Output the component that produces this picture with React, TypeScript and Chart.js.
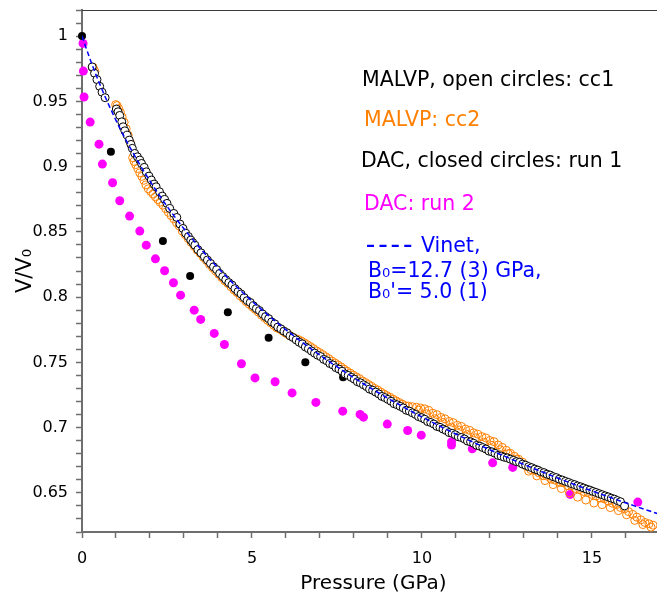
import React, { useEffect, useRef } from 'react';
import { Chart, registerables } from 'chart.js';

Chart.register(...registerables);

const FONT = '"DejaVu Sans", "Liberation Sans", sans-serif';

// Vinet fit curve (pressure GPa, V/V0)
const vinetFit: [number, number][] = [
  [0, 1.0], [0.27, 0.98], [0.574, 0.96], [0.916, 0.94], [1.301, 0.92], [1.735, 0.9],
  [2.223, 0.88], [2.772, 0.86], [3.391, 0.84], [4.087, 0.82], [4.872, 0.8], [5.758, 0.78],
  [6.758, 0.76], [7.887, 0.74], [9.166, 0.72], [10.614, 0.7], [12.258, 0.68], [14.126, 0.66],
  [16.251, 0.64], [16.83, 0.635], [17.15, 0.6323],
];

// MALVP cc1 (open black circles)
const malvpCc1: [number, number][] = [
  [0.30, 0.9764], [0.37, 0.9715], [0.44, 0.9667], [0.52, 0.9615], [0.59, 0.9570], [0.68, 0.9528],
  [1.01, 0.9441], [1.06, 0.9420], [1.11, 0.9392], [1.17, 0.9343], [1.21, 0.9305], [1.26, 0.9274],
  [1.33, 0.9241], [1.39, 0.9203], [1.44, 0.9170], [1.48, 0.9140], [1.55, 0.9101], [1.63, 0.9075],
  [1.70, 0.9050], [1.75, 0.9024], [1.83, 0.8994], [1.89, 0.8960], [1.97, 0.8927], [2.04, 0.8897],
  [2.12, 0.8866], [2.18, 0.8845], [2.28, 0.8807], [2.36, 0.8774], [2.43, 0.8749], [2.50, 0.8718],
  [2.58, 0.8680], [2.70, 0.8641], [2.79, 0.8610],
  [2.88, 0.8560], [2.97, 0.8526], [3.05, 0.8490], [3.13, 0.8464], [3.20, 0.8437], [3.26, 0.8417],
  [3.32, 0.8398], [3.41, 0.8364], [3.50, 0.8339], [3.60, 0.8310], [3.69, 0.8284], [3.78, 0.8258],
  [3.87, 0.8232], [3.96, 0.8211], [4.05, 0.8181], [4.14, 0.8157], [4.23, 0.8134], [4.32, 0.8111],
  [4.41, 0.8093], [4.50, 0.8065], [4.59, 0.8042], [4.68, 0.8024], [4.77, 0.7996], [4.86, 0.7973],
  [4.95, 0.7959], [5.04, 0.7934], [5.13, 0.7912], [5.22, 0.7897], [5.31, 0.7871], [5.40, 0.7851],
  [5.49, 0.7835], [5.58, 0.7810], [5.67, 0.7795], [5.76, 0.7770], [5.85, 0.7757], [5.94, 0.7739],
  [6.03, 0.7726], [6.12, 0.7703], [6.21, 0.7690], [6.30, 0.7672], [6.39, 0.7654], [6.48, 0.7641],
  [6.57, 0.7618], [6.66, 0.7605], [6.75, 0.7587], [6.84, 0.7571], [6.93, 0.7555], [7.02, 0.7544],
  [7.11, 0.7523], [7.20, 0.7512], [7.29, 0.7491], [7.38, 0.7480], [7.47, 0.7459], [7.56, 0.7448],
  [7.65, 0.7432], [7.74, 0.7411], [7.83, 0.7400], [7.92, 0.7385], [8.01, 0.7371], [8.10, 0.7352],
  [8.19, 0.7343], [8.28, 0.7328], [8.37, 0.7314], [8.46, 0.7295], [8.55, 0.7286], [8.64, 0.7272],
  [8.73, 0.7258], [8.82, 0.7239], [8.91, 0.7230], [9.00, 0.7216], [9.09, 0.7202], [9.18, 0.7183],
  [9.27, 0.7175], [9.36, 0.7163], [9.45, 0.7151], [9.54, 0.7133], [9.63, 0.7126], [9.72, 0.7113],
  [9.81, 0.7101], [9.90, 0.7084], [9.99, 0.7076], [10.08, 0.7064], [10.17, 0.7046], [10.26, 0.7039],
  [10.35, 0.7027], [10.44, 0.7009], [10.53, 0.7002], [10.62, 0.6989], [10.71, 0.6978], [10.80, 0.6962],
  [10.89, 0.6956], [10.98, 0.6945], [11.07, 0.6930], [11.16, 0.6924], [11.25, 0.6913], [11.34, 0.6897],
  [11.43, 0.6891], [11.52, 0.6880], [11.61, 0.6864], [11.70, 0.6858], [11.79, 0.6847], [11.88, 0.6836],
  [11.97, 0.6820], [12.06, 0.6814], [12.15, 0.6803], [12.24, 0.6787], [12.33, 0.6782], [12.42, 0.6773],
  [12.51, 0.6768], [12.60, 0.6758], [12.69, 0.6749], [12.78, 0.6739], [12.87, 0.6734], [12.96, 0.6720],
  [13.05, 0.6712], [13.14, 0.6701], [13.23, 0.6693], [13.32, 0.6682], [13.41, 0.6674], [13.50, 0.6662],
  [13.59, 0.6655], [13.68, 0.6643], [13.77, 0.6636], [13.86, 0.6624], [13.95, 0.6617], [14.04, 0.6605],
  [14.13, 0.6598], [14.22, 0.6588], [14.31, 0.6580], [14.40, 0.6570], [14.49, 0.6563], [14.58, 0.6553],
  [14.67, 0.6546], [14.76, 0.6537], [14.85, 0.6528], [14.94, 0.6521], [15.03, 0.6511], [15.12, 0.6503],
  [15.21, 0.6494], [15.30, 0.6486], [15.39, 0.6477], [15.48, 0.6469], [15.57, 0.6459], [15.66, 0.6452],
  [15.75, 0.6441], [15.84, 0.6432], [15.96, 0.6400],
];

// MALVP cc2 (open orange circles)
const malvpCc2: [number, number][] = [
  [0.33, 0.9760], [0.38, 0.9730],
  [0.99, 0.9475], [1.03, 0.9468], [1.08, 0.9445], [1.13, 0.9415], [1.18, 0.9380], [1.24, 0.9340],
  [1.30, 0.9290], [1.36, 0.9240], [1.42, 0.9185],
  [1.49, 0.9068], [1.53, 0.9040], [1.58, 0.9015], [1.64, 0.8985], [1.70, 0.8952], [1.76, 0.8925],
  [1.82, 0.8895], [1.88, 0.8860], [1.95, 0.8830], [2.02, 0.8810], [2.09, 0.8790], [2.16, 0.8768],
  [2.23, 0.8748], [2.30, 0.8728], [2.38, 0.8705], [2.46, 0.8678], [2.54, 0.8650], [2.62, 0.8625],
  [2.70, 0.8600], [2.78, 0.8570], [2.86, 0.8545], [2.95, 0.8505], [3.03, 0.8480], [3.12, 0.8450],
  [3.21, 0.8420], [3.30, 0.8390], [3.39, 0.8360], [3.48, 0.8335], [3.57, 0.8305], [3.66, 0.8280],
  [3.75, 0.8250], [3.84, 0.8225], [3.93, 0.8200], [4.02, 0.8175], [4.11, 0.8150], [4.20, 0.8125],
  [4.29, 0.8105], [4.38, 0.8080], [4.47, 0.8055], [4.56, 0.8035], [4.65, 0.8010], [4.74, 0.7990],
  [4.83, 0.7965], [4.92, 0.7945], [5.01, 0.7925], [5.10, 0.7905], [5.19, 0.7885], [5.28, 0.7862],
  [5.37, 0.7842], [5.46, 0.7822], [5.55, 0.7803], [5.64, 0.7784], [5.73, 0.7764], [5.82, 0.7753],
  [5.91, 0.7738], [6.00, 0.7722], [6.09, 0.7709], [6.18, 0.7696], [6.27, 0.7683], [6.36, 0.7675],
  [6.45, 0.7664], [6.54, 0.7650], [6.63, 0.7635], [6.72, 0.7620], [6.81, 0.7605], [6.90, 0.7588],
  [6.99, 0.7575], [7.08, 0.7560], [7.17, 0.7543], [7.26, 0.7528], [7.35, 0.7510], [7.44, 0.7495],
  [7.53, 0.7480], [7.62, 0.7465], [7.71, 0.7448], [7.80, 0.7432], [7.89, 0.7418], [7.98, 0.7402],
  [8.07, 0.7388], [8.16, 0.7375], [8.25, 0.7358], [8.34, 0.7345], [8.43, 0.7330], [8.52, 0.7316],
  [8.61, 0.7300], [8.70, 0.7288], [8.79, 0.7272], [8.88, 0.7258], [8.97, 0.7245], [9.06, 0.7232],
  [9.15, 0.7218], [9.24, 0.7205], [9.33, 0.7192], [9.42, 0.7180], [9.51, 0.7168], [9.60, 0.7165],
  [9.72, 0.7160], [9.84, 0.7156], [9.96, 0.7150], [10.08, 0.7144], [10.20, 0.7132], [10.32, 0.7110],
  [10.44, 0.7099], [10.56, 0.7078], [10.68, 0.7067], [10.80, 0.7047], [10.92, 0.7038], [11.04, 0.7018],
  [11.16, 0.7009], [11.28, 0.6989], [11.40, 0.6979], [11.52, 0.6960], [11.64, 0.6950], [11.76, 0.6931],
  [11.88, 0.6921], [12.00, 0.6901], [12.12, 0.6892], [12.24, 0.6867], [12.36, 0.6849], [12.48, 0.6826],
  [12.60, 0.6803], [12.72, 0.6780], [12.84, 0.6758], [12.96, 0.6735],
  [9.90, 0.7134], [10.14, 0.7106], [10.38, 0.7068], [10.62, 0.7039], [10.86, 0.7004], [11.10, 0.6981],
  [11.34, 0.6947], [11.58, 0.6922], [11.82, 0.6888], [12.06, 0.6864], [12.30, 0.6831], [12.54, 0.6800],
  [12.78, 0.6759],
  [13.08, 0.6702], [13.20, 0.6679], [13.32, 0.6671], [13.44, 0.6654], [13.56, 0.6631], [13.68, 0.6628],
  [13.80, 0.6605], [13.92, 0.6597], [14.04, 0.6579], [14.16, 0.6577], [14.28, 0.6556], [14.40, 0.6554],
  [14.52, 0.6533], [14.64, 0.6526], [14.76, 0.6510], [14.88, 0.6504], [15.00, 0.6488], [15.12, 0.6476],
  [15.24, 0.6460], [15.36, 0.6454], [15.48, 0.6437], [15.60, 0.6421], [15.72, 0.6410], [15.84, 0.6388],
  [15.96, 0.6377], [16.08, 0.6356], [16.20, 0.6335], [16.32, 0.6314], [16.44, 0.6293], [16.56, 0.6273],
  [16.68, 0.6263], [16.80, 0.6252],
  [13.14, 0.6666], [13.38, 0.6630], [13.62, 0.6594], [13.86, 0.6563], [14.10, 0.6533], [14.34, 0.6500],
  [14.58, 0.6467], [14.82, 0.6445], [15.06, 0.6422], [15.30, 0.6409], [15.54, 0.6387], [15.78, 0.6364],
  [16.02, 0.6332], [16.26, 0.6289], [16.50, 0.6257], [16.74, 0.6237],
];

// DAC run 1 (closed black circles)
const dacRun1: [number, number][] = [
  [0, 1.0], [0.30, 0.976], [0.85, 0.9113], [2.38, 0.8429], [3.18, 0.8161], [4.29, 0.7883],
  [5.49, 0.7688], [6.57, 0.750], [7.68, 0.7385],
];

// DAC run 2 (magenta)
const dacRun2: [number, number][] = [
  [0.03, 0.9944], [0.04, 0.9732], [0.06, 0.9533], [0.24, 0.9341], [0.50, 0.9172], [0.60, 0.9019],
  [0.90, 0.8876], [1.11, 0.8738], [1.40, 0.8621], [1.70, 0.8506], [1.89, 0.8398], [2.16, 0.8293],
  [2.43, 0.8202], [2.69, 0.8110], [2.90, 0.8015], [3.30, 0.7900], [3.49, 0.7829], [3.89, 0.7722],
  [4.19, 0.7637], [4.69, 0.7489], [5.09, 0.7381], [5.68, 0.7351], [6.18, 0.7266], [6.88, 0.7193],
  [7.67, 0.7126], [8.18, 0.7101], [8.28, 0.7080], [8.98, 0.7027], [9.58, 0.6978], [9.98, 0.6942],
  [10.87, 0.6891], [10.87, 0.6866], [11.48, 0.6837], [12.08, 0.6730], [12.67, 0.6695], [14.36, 0.6488],
  [16.35, 0.6429],
];

const xLabelEvery = 5;
const yLabelEvery = 0.05;

const legendTexts = [
  'MALVP, open circles: cc1',
  'MALVP: cc2',
  'DAC, closed circles: run 1',
  'DAC: run 2',
  'Vinet,',
  'B\u2080=12.7 (3) GPa,',
  "B\u2080'= 5.0 (1)",
];

const toXY = (arr: [number, number][]) => arr.map(([x, y]) => ({ x, y }));

const overlayPlugin = {
  id: 'overlay',
  afterDraw(chart: any) {
    const { ctx, chartArea } = chart;
    ctx.save();
    // top frame line
    ctx.strokeStyle = '#3c3c3c';
    ctx.lineWidth = 1;
    ctx.beginPath();
    ctx.moveTo(chartArea.left, chartArea.top + 0.5);
    ctx.lineTo(chart.width, chartArea.top + 0.5);
    ctx.stroke();

    ctx.textBaseline = 'alphabetic';
    ctx.textAlign = 'left';
    ctx.font = `20.5px ${FONT}`;
    ctx.fillStyle = '#000000';
    ctx.fillText(legendTexts[0], 362, 86);
    ctx.fillStyle = '#ff8000';
    ctx.fillText(legendTexts[1], 364, 126);
    ctx.fillStyle = '#000000';
    ctx.fillText(legendTexts[2], 361, 167);
    ctx.fillStyle = '#ff00ff';
    ctx.fillText(legendTexts[3], 364, 210);
    ctx.fillStyle = '#0000ff';
    ctx.font = `bold 18px ${FONT}`;
    for (let i = 0; i < 4; i++) ctx.fillText('\u2013', 366 + i * 12.4, 251);
    ctx.font = `20.5px ${FONT}`;
    ctx.fillText(legendTexts[4], 421, 252);
    ctx.fillText(legendTexts[5], 368, 277);
    ctx.fillText(legendTexts[6], 368, 298);
    ctx.restore();
  },
};

export default function App() {
  const canvasRef = useRef<HTMLCanvasElement | null>(null);

  useEffect(() => {
    if (!canvasRef.current) return;
    const chart = new Chart(canvasRef.current, {
      type: 'scatter',
      data: {
        datasets: [
          {
            label: 'Vinet',
            data: toXY(vinetFit),
            showLine: true,
            borderColor: '#0000ff',
            borderWidth: 1.5,
            borderDash: [5, 3],
            pointRadius: 0,
            cubicInterpolationMode: 'monotone',
            fill: false,
            order: 1,
          } as any,
          {
            label: 'MALVP cc1',
            data: toXY(malvpCc1),
            showLine: false,
            pointRadius: 4,
            pointBorderWidth: 1,
            pointBorderColor: '#000000',
            pointBackgroundColor: '#ffffff',
            order: 2,
          },
          {
            label: 'MALVP cc2',
            data: toXY(malvpCc2),
            showLine: false,
            pointRadius: 4,
            pointBorderWidth: 1,
            pointBorderColor: '#ff8000',
            pointBackgroundColor: 'rgba(255,255,255,0)',
            order: 3,
          },
          {
            label: 'DAC run 1',
            data: toXY(dacRun1),
            showLine: false,
            pointRadius: 4,
            pointBorderWidth: 0,
            pointBackgroundColor: '#000000',
            clip: false,
            order: 4,
          } as any,
          {
            label: 'DAC run 2',
            data: toXY(dacRun2),
            showLine: false,
            pointRadius: 4.5,
            pointBorderWidth: 0,
            pointBackgroundColor: '#ff00ff',
            clip: false,
            order: 5,
          } as any,
        ],
      },
      options: {
        animation: false,
        responsive: false,
        devicePixelRatio: 1,
        events: [],
        layout: { padding: { top: 10, left: 0, right: 0, bottom: 0 } },
        plugins: {
          legend: { display: false },
          tooltip: { enabled: false },
        },
        scales: {
          x: {
            type: 'linear',
            position: 'bottom',
            min: 0,
            max: 17.15,
            afterFit: (s: any) => {
              s.height = 62;
              s.paddingLeft = 0;
              s.paddingRight = 0;
            },
            border: { display: true, color: '#6e6e6e', width: 2 },
            grid: {
              display: true,
              drawOnChartArea: false,
              drawTicks: true,
              tickLength: 6,
              tickColor: '#6e6e6e',
              tickWidth: 1.5,
            },
            ticks: {
              stepSize: 1,
              includeBounds: false,
              autoSkip: false,
              maxRotation: 0,
              padding: 11,
              color: '#000000',
              font: { family: FONT, size: 16 },
              callback: (v: any) => {
                const n = Number(v);
                return Math.abs(n / xLabelEvery - Math.round(n / xLabelEvery)) < 1e-6 ? String(n) : '';
              },
            },
            title: {
              display: true,
              text: 'Pressure (GPa)',
              color: '#000000',
              font: { family: FONT, size: 20, lineHeight: 1 },
              padding: { top: 0, bottom: 0 },
            },
          },
          y: {
            type: 'linear',
            position: 'left',
            min: 0.62,
            max: 1.02,
            afterFit: (s: any) => {
              s.width = 82;
              s.paddingTop = 0;
              s.paddingBottom = 0;
            },
            border: { display: true, color: '#6e6e6e', width: 2 },
            grid: {
              display: true,
              drawOnChartArea: false,
              drawTicks: true,
              tickLength: 6,
              tickColor: '#6e6e6e',
              tickWidth: 1.5,
            },
            ticks: {
              stepSize: 0.01,
              includeBounds: false,
              autoSkip: false,
              padding: 8,
              color: '#000000',
              font: { family: FONT, size: 16 },
              callback: (v: any) => {
                const n = Number(v);
                const k = n / yLabelEvery;
                return Math.abs(k - Math.round(k)) < 1e-6 ? String(Math.round(n * 100) / 100) : '';
              },
            },
            title: {
              display: true,
              text: 'V/V\u2080',
              color: '#000000',
              font: { family: FONT, size: 21, lineHeight: 1 },
              padding: { top: 15, bottom: 0 },
            },
          },
        },
      } as any,
      plugins: [overlayPlugin],
    });
    return () => chart.destroy();
  }, []);

  return (
    <div
      style={{
        position: 'fixed',
        left: 0,
        top: 0,
        width: 657,
        height: 594,
        overflow: 'hidden',
        background: '#ffffff',
      }}
    >
      <canvas ref={canvasRef} width={670} height={594} style={{ display: 'block', width: 670, height: 594 }} />
    </div>
  );
}
